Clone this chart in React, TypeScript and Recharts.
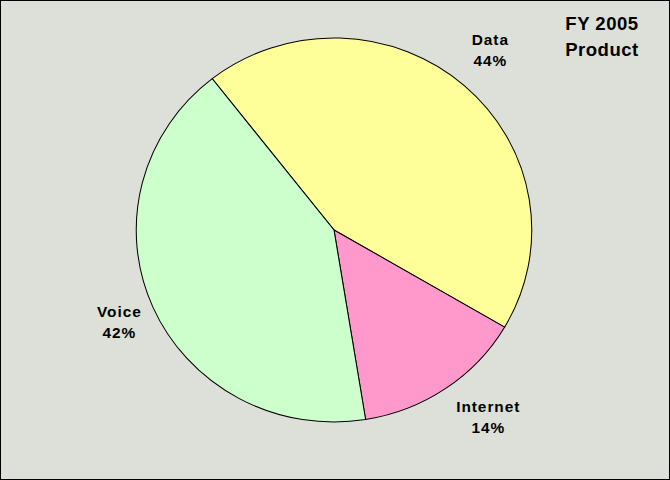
import { PieChart, Pie, Cell } from 'recharts'

const products = ['Data', 'Internet', 'Voice']
const shares = [44, 14, 42]
const sliceColors = ['#FFFF99', '#FF99CC', '#CCFFCC']
const titleLines = ['FY 2005', 'Product']

const data = products.map((name, i) => ({ name, value: shares[i] }))

// the original picture is stretched a little horizontally
const SX = 1.03
const W = 670 / SX
const H = 480
const CX = 334 / SX
const CY = 230
const FONT = '"Liberation Sans", Arial, sans-serif'

// small per-slice nudges, Excel places its labels by the text box, not the angle
const nudge: Record<string, [number, number]> = {
  Data: [-3, -3],
  Internet: [17, -7],
  Voice: [7, -2],
}

const RAD = Math.PI / 180

function renderLabel(props: any) {
  const { cx, cy, midAngle, name, value } = props
  const r = 235
  const [dx, dy] = nudge[name] ?? [0, 0]
  const x = cx + r * Math.cos(-midAngle * RAD) + dx
  const y = cy + r * Math.sin(-midAngle * RAD) + dy
  return (
    <text
      x={x}
      y={y}
      textAnchor="middle"
      fontFamily={FONT}
      fontWeight="bold"
      fontSize={15}
      letterSpacing={0.9}
      fill="#000"
    >
      <tspan x={x} y={y - 10.5} dominantBaseline="central">{name}</tspan>
      <tspan x={x} y={y + 10.5} dominantBaseline="central">{value}%</tspan>
    </text>
  )
}

export default function App() {
  return (
    <div
      style={{
        position: 'absolute', left: 0, top: 0, width: 670, height: 480,
        boxSizing: 'border-box', border: '1px solid #000', background: '#DCE0D8',
        overflow: 'hidden',
      }}
    >
      <div style={{ position: 'absolute', left: -1, top: -1, width: W, height: H, transform: `scaleX(${SX})`, transformOrigin: '0 0' }}>
        <PieChart width={W} height={H} margin={{ top: 0, right: 0, bottom: 0, left: 0 }}>
          <Pie
            data={data}
            dataKey="value"
            nameKey="name"
            cx={CX}
            cy={CY}
            outerRadius={192}
            startAngle={128}
            endAngle={-232}
            stroke="#000"
            strokeWidth={1}
            label={renderLabel}
            labelLine={false}
            isAnimationActive={false}
          >
            {data.map((d, i) => <Cell key={d.name} fill={sliceColors[i]} />)}
          </Pie>
        </PieChart>
        <div
          style={{
            position: 'absolute', left: 602 / SX - 60, top: 11, width: 120,
            textAlign: 'center', fontFamily: FONT, fontWeight: 'bold', fontSize: 18, letterSpacing: 0.5,
            lineHeight: '26px', color: '#000',
          }}
        >
          {titleLines.map(t => <div key={t}>{t}</div>)}
        </div>
      </div>
    </div>
  )
}
